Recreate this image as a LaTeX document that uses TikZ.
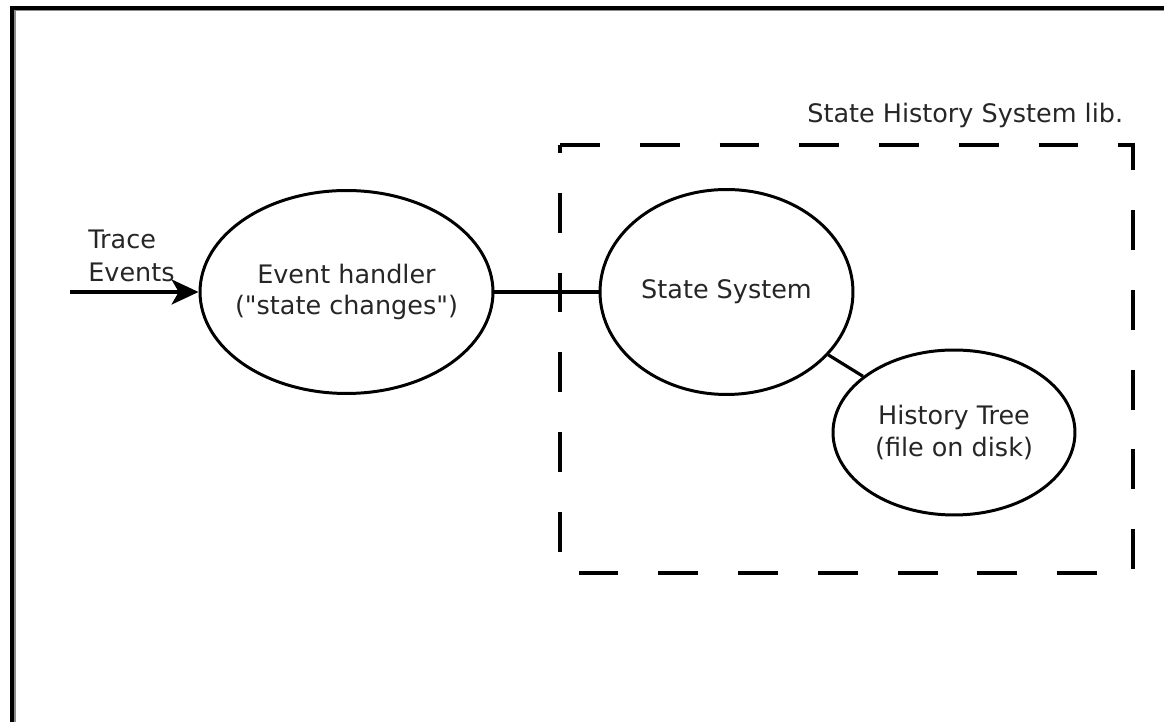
\documentclass[tikz,border=0pt]{standalone}
\usepackage{fontspec}
\setmainfont{DejaVu Sans}[Ligatures=TeXOff]
\usetikzlibrary{arrows.meta,shapes.geometric}

\begin{document}
\begin{tikzpicture}[x=0.02cm,y=-0.02cm,
		state_node/.style={ellipse,draw,line width=1.7pt,inner sep=0pt},
		label_node/.style={inner sep=0pt,text=black!85,font=\fontsize{14.5}{18}\selectfont}]

		\useasboundingbox (0,0) rectangle (1164,722);

		% frame of the page (only top and left edges are visible)
		\draw[black!45,line width=0.8pt] (14.8,722) -- (14.8,10.6) -- (1164,10.6);
		\draw[line width=2.3pt] (12,722) -- (12,8) -- (1164,8);

		% the library box
		\draw[line width=2.2pt,dash pattern=on 22.7pt off 22.7pt]
		(560,145) -- (1133,145) -- (1133,573) -- (560,573) -- cycle;
		\node[label_node,anchor=base west] (lib) at (807,123) {State History System lib.};

		\node[state_node,minimum width=5.86cm,minimum height=4.06cm] (eh) at (346.5,292){};
		% (eh) is the event handler, its text is put on top of it
		\node[label_node,align=center] (ehtext) at (eh) {Event handler\\("state changes")};
		\node[state_node,minimum width=5.06cm,minimum height=4.1cm] (ss) at (726.5,292){};
		\node[label_node] (sstext) at (ss) {State System};
		\node[state_node,minimum width=4.84cm,minimum height=3.3cm] (ht) at (954,432.5){};
		\node[label_node,align=center] (httext) at (ht) {History Tree\\(file on disk)};

		% incoming events
		\coordinate (in) at (70,292);
		\node[label_node,anchor=base west,align=left] (trace) at (88,282) {Trace\\[1pt]Events};
		\draw[line width=2.1pt,-{Stealth[length=15.3pt,width=14.2pt,inset=4pt]}] (in) -- (eh);

		\path[draw,line width=1.8pt]
		(eh) edge node {} (ss)
		(ss) edge node {} (ht)
		;

	\end{tikzpicture}
\end{document}
